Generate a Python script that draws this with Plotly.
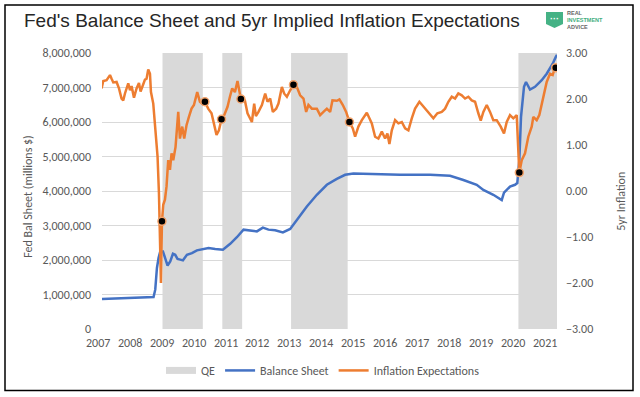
import plotly.graph_objects as go

# ---------------- data ----------------
infl_years = [2007.125, 2007.178, 2007.281, 2007.388, 2007.438, 2007.491, 2007.594, 2007.669, 2007.75, 2007.803,
              2007.856, 2007.959, 2008.013, 2008.063, 2008.138, 2008.219, 2008.294, 2008.344, 2008.428, 2008.481,
              2008.531, 2008.584, 2008.638, 2008.669, 2008.741, 2008.813, 2008.875, 2008.919, 2008.95, 2008.981,
              2009.013, 2009.053, 2009.106, 2009.156, 2009.209, 2009.263, 2009.313, 2009.366, 2009.438, 2009.522,
              2009.575, 2009.647, 2009.709, 2009.781, 2009.856, 2009.938, 2010.013, 2010.116, 2010.2, 2010.272,
              2010.356, 2010.459, 2010.563, 2010.647, 2010.719, 2010.794, 2010.875, 2010.959, 2011.063, 2011.138,
              2011.209, 2011.294, 2011.375, 2011.419, 2011.481, 2011.606, 2011.688, 2011.825, 2011.897, 2011.95,
              2012.031, 2012.138, 2012.241, 2012.313, 2012.397, 2012.481, 2012.584, 2012.656, 2012.763, 2012.834,
              2012.919, 2013.022, 2013.125, 2013.231, 2013.334, 2013.438, 2013.522, 2013.594, 2013.7, 2013.856,
              2013.959, 2014.063, 2014.169, 2014.272, 2014.344, 2014.481, 2014.563, 2014.669, 2014.772, 2014.875,
              2014.981, 2015.053, 2015.156, 2015.263, 2015.419, 2015.5, 2015.575, 2015.678, 2015.781, 2015.888,
              2015.991, 2016.063, 2016.125, 2016.2, 2016.303, 2016.406, 2016.513, 2016.616, 2016.719, 2016.825,
              2016.928, 2017.063, 2017.188, 2017.294, 2017.397, 2017.5, 2017.625, 2017.763, 2017.866, 2017.969,
              2018.075, 2018.178, 2018.281, 2018.388, 2018.491, 2018.594, 2018.7, 2018.803, 2018.906, 2018.981,
              2019.063, 2019.169, 2019.272, 2019.375, 2019.481, 2019.606, 2019.709, 2019.794, 2019.897, 2020.0,
              2020.106, 2020.156, 2020.188, 2020.263, 2020.366, 2020.469, 2020.575, 2020.625, 2020.731, 2020.813,
              2020.938, 2021.044, 2021.147, 2021.231, 2021.272, 2021.325]
infl_values = [2.23, 2.39, 2.41, 2.52, 2.44, 2.36, 2.37, 2.23, 2.01, 1.97,
               2.12, 2.34, 2.19, 2.28, 2.03, 2.23, 2.35, 2.16, 2.32, 2.42,
               2.44, 2.64, 2.55, 2.15, 1.90, 1.25, 0.75, -0.05, -0.92, -2.00,
               -0.66, -0.30, -0.19, 0.10, 0.67, 0.46, 0.82, 0.67, 0.96, 1.72,
               1.14, 1.40, 1.14, 1.43, 1.61, 1.79, 1.87, 2.15, 1.94, 1.90,
               1.94, 1.79, 1.69, 1.40, 1.22, 1.32, 1.56, 1.65, 1.83, 2.05,
               2.23, 2.15, 2.39, 2.23, 2.00, 1.97, 1.69, 1.50, 1.90, 1.63,
               1.72, 1.87, 2.12, 1.94, 2.01, 1.72, 1.79, 1.90, 2.26, 2.12,
               2.05, 2.19, 2.31, 2.26, 2.08, 2.01, 1.72, 1.87, 1.79, 1.79,
               1.65, 1.72, 1.79, 1.72, 1.97, 1.96, 1.99, 1.87, 1.72, 1.50,
               1.36, 1.18, 1.40, 1.54, 1.70, 1.58, 1.47, 1.18, 1.14, 1.29,
               1.14, 1.25, 1.02, 1.32, 1.54, 1.47, 1.50, 1.36, 1.32, 1.58,
               1.79, 1.94, 1.83, 1.76, 1.65, 1.58, 1.69, 1.72, 1.79, 1.94,
               2.05, 2.01, 2.12, 2.08, 2.01, 2.05, 1.97, 1.94, 1.69, 1.53,
               1.72, 1.87, 1.72, 1.54, 1.54, 1.40, 1.25, 1.50, 1.65, 1.58,
               1.65, 0.82, 0.40, 0.67, 0.82, 1.18, 1.40, 1.61, 1.54, 1.65,
               2.05, 2.37, 2.55, 2.52, 2.61, 2.68]

bs_years = [2007.138, 2007.813, 2008.334, 2008.75, 2008.803, 2008.856, 2008.906, 2008.959, 2009.044, 2009.116,
            2009.188, 2009.272, 2009.356, 2009.428, 2009.5, 2009.584, 2009.669, 2009.794, 2009.95, 2010.106,
            2010.313, 2010.469, 2010.678, 2010.919, 2011.147, 2011.356, 2011.563, 2011.772, 2011.981, 2012.169,
            2012.344, 2012.553, 2012.794, 2013.022, 2013.231, 2013.544, 2013.856, 2014.169, 2014.481, 2014.741,
            2015.0, 2015.834, 2016.459, 2017.397, 2018.022, 2018.438, 2018.856, 2019.063, 2019.375, 2019.638,
            2019.709, 2019.897, 2020.053, 2020.125, 2020.188, 2020.241, 2020.334, 2020.397, 2020.522, 2020.678,
            2020.888, 2021.044, 2021.147, 2021.231, 2021.325, 2021.366]
bs_values = [873000, 890000, 900000, 930000, 1140000, 1770000, 2060000, 2250000, 2250000, 2060000,
             1840000, 1960000, 2180000, 2150000, 2030000, 2010000, 1990000, 2150000, 2200000, 2280000,
             2330000, 2350000, 2320000, 2300000, 2470000, 2660000, 2880000, 2860000, 2830000, 2940000,
             2880000, 2860000, 2800000, 2900000, 3160000, 3550000, 3890000, 4180000, 4350000, 4470000,
             4510000, 4490000, 4470000, 4470000, 4440000, 4320000, 4180000, 4030000, 3890000, 3740000,
             3950000, 4130000, 4180000, 4230000, 4900000, 6150000, 7020000, 7160000, 6940000, 7020000,
             7210000, 7400000, 7550000, 7690000, 7880000, 7950000]

dot_years = [2009.013, 2010.356, 2010.875, 2011.481, 2013.125, 2014.875, 2020.188, 2021.325]
dot_values = [-0.66, 1.94, 1.56, 2.00, 2.31, 1.50, 0.40, 2.68]

qe_start = [2009.03, 2010.90, 2013.05, 2020.16]
qe_end = [2010.29, 2011.52, 2014.82, 2021.366]

tick_years = list(range(2007, 2022))
left_ticks = [0, 1000000, 2000000, 3000000, 4000000, 5000000, 6000000, 7000000, 8000000]
right_ticks = [-3, -2, -1, 0, 1, 2, 3]

title_text = "Fed's Balance Sheet and 5yr Implied Inflation Expectations"

# ---------------- layout helpers ----------------
W, H = 640, 397
L, R, T, B = 102, 557, 53, 329.5
X_RANGE = [2007.138, 2021.366]


def px(x):
    return (x - L) / (R - L)


def py(y):
    return (B - y) / (B - T)


def xfrac(yr):
    # position of a date value as a fraction of the plot width
    return (yr - X_RANGE[0]) / (X_RANGE[1] - X_RANGE[0])


ORANGE = "#ED7D31"
BLUE = "#4472C4"
GREY = "#D9D9D9"
TXT = "#595959"
FONT = "Carlito, Calibri, Lato, sans-serif"

fig = go.Figure()

fig.add_trace(go.Bar(
    x=[(s + e) / 2 for s, e in zip(qe_start, qe_end)],
    y=[8000000] * len(qe_start),
    width=[e - s for s, e in zip(qe_start, qe_end)],
    marker=dict(color=GREY, line=dict(width=0)),
    showlegend=False, hoverinfo="skip", yaxis="y",
))
fig.add_trace(go.Scatter(
    x=[None], y=[None], mode="lines", name="QE",
    line=dict(color=GREY, width=7), legendrank=1,
))
fig.add_trace(go.Scatter(
    x=bs_years, y=bs_values, mode="lines", name="Balance Sheet",
    line=dict(color=BLUE, width=2.5), legendrank=2, yaxis="y",
))
fig.add_trace(go.Scatter(
    x=infl_years, y=infl_values, mode="lines", name="Inflation Expectations",
    line=dict(color=ORANGE, width=2.5), legendrank=3, yaxis="y2",
))
fig.add_trace(go.Scatter(
    x=dot_years, y=dot_values, mode="markers", showlegend=False,
    marker=dict(color="black", size=8, line=dict(color="#F4A46C", width=1.5)),
    yaxis="y2",
))

fig.update_layout(
    width=W, height=H,
    margin=dict(l=L, r=W - R, t=T, b=H - B, pad=0),
    paper_bgcolor="white", plot_bgcolor="white",
    font=dict(family=FONT, size=12, color=TXT),
    barmode="overlay",
    xaxis=dict(
        range=X_RANGE, tickvals=tick_years,
        showticklabels=False, showgrid=False, zeroline=False,
        showline=False, ticks="",
    ),
    yaxis=dict(
        range=[0, 8000000], tickvals=left_ticks, tickformat=",d",
        showgrid=True, gridcolor=GREY, gridwidth=1, zeroline=False,
        showline=False, ticks="", ticklabelstandoff=10,
        tickfont=dict(family=FONT, size=12, color=TXT),
    ),
    yaxis2=dict(
        range=[-3, 3], tickvals=right_ticks, tickformat=".2f",
        overlaying="y", side="right", showgrid=False, zeroline=False,
        showline=False, ticks="", ticklabelstandoff=8,
        tickfont=dict(family=FONT, size=12, color=TXT),
    ),
    legend=dict(
        orientation="h", x=px(323), xanchor="center", y=py(371), yanchor="middle",
        font=dict(family=FONT, size=12, color=TXT), bgcolor="rgba(0,0,0,0)",
        traceorder="normal",
    ),
    showlegend=True,
)

LOGO_FONT = "Liberation Sans, Arial, sans-serif"
logo_text = ("<b><span style='color:#666666'>REAL</span><br>"
             "<span style='color:#3FAE80'>INVESTMENT</span><br>"
             "<span style='color:#666666'>ADVICE</span></b>")
annotations = [
    dict(text=title_text, x=px(22), y=py(20), xref="paper", yref="paper",
         xanchor="left", yanchor="middle", showarrow=False,
         font=dict(family="Liberation Sans, Arial, sans-serif", size=19, color="#262626")),
    dict(text="Fed Bal Sheet (millions $)", x=px(28), y=py(197), xref="paper", yref="paper",
         xanchor="center", yanchor="middle", textangle=-90, showarrow=False,
         font=dict(family=FONT, size=12, color=TXT)),
    dict(text="5yr Inflation", x=px(621), y=py(202), xref="paper", yref="paper",
         xanchor="center", yanchor="middle", textangle=-90, showarrow=False,
         font=dict(family=FONT, size=12, color=TXT)),
    dict(text=logo_text, x=px(566), y=py(20), xref="paper", yref="paper",
         xanchor="left", yanchor="middle", align="left", showarrow=False,
         borderpad=0, font=dict(family=LOGO_FONT, size=5.5, color="#666666")),
    dict(text="<b>···</b>", x=px(554.5), y=py(19), xref="paper", yref="paper",
         xanchor="center", yanchor="middle", showarrow=False,
         font=dict(family=LOGO_FONT, size=9, color="white")),
]
# year labels on the date axis (2007 sits just left of the first data point)
for yr in tick_years:
    annotations.append(dict(text=str(yr), x=xfrac(yr), xref="paper", y=py(344), yref="paper",
                            xanchor="center", yanchor="middle", showarrow=False,
                            font=dict(family=FONT, size=12, color=TXT)))
fig.update_layout(annotations=annotations)

# shield path (logo) and outer border
sx0, sx1, sy0, sy1, sy2 = px(546), px(563), py(12), py(24), py(28)
smid = px(554.5)
shield = f"M {sx0} {sy0} L {sx1} {sy0} L {sx1} {sy1} L {smid} {sy2} L {sx0} {sy1} Z"
fig.update_layout(shapes=[
    dict(type="path", path=shield, xref="paper", yref="paper",
         fillcolor="#45B285", line=dict(width=0), layer="below"),
    dict(type="rect", xref="paper", yref="paper",
         x0=px(5), x1=px(633), y0=py(5), y1=py(391),
         line=dict(color="black", width=1.5), fillcolor="rgba(0,0,0,0)"),
])

fig.write_html("out.html", config={"displayModeBar": False},
               post_script="document.body.style.margin='0px';")
